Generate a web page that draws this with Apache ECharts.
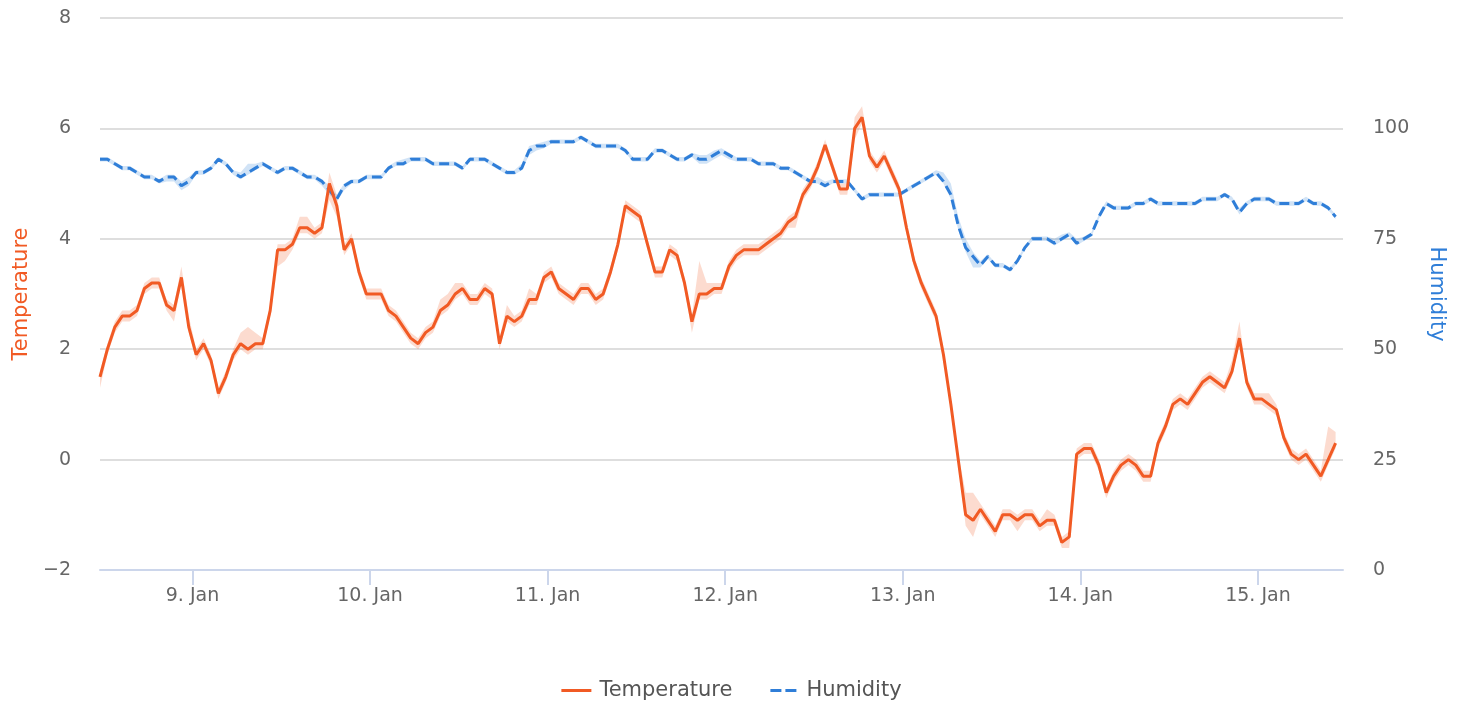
<!DOCTYPE html>
<html>
<head>
<meta charset="utf-8">
<title>Temperature and humidity</title>
<script src="https://cdn.jsdelivr.net/npm/echarts@6/dist/echarts.min.js"></script>
<style>
html, body { margin: 0; padding: 0; background: #fff; }
#main { width: 1463px; height: 707px; }
</style>
</head>
<body>
<div id="main"></div>
<script>
// hourly readings, first one on 8 Jan 11:30
var startTime = Date.UTC(2023, 0, 8, 11, 30);
var hour = 3600 * 1000;

var temperature = [
  1.5,2.0,2.4,2.6,2.6,2.7,3.1,3.2,3.2,2.8,
  2.7,3.3,2.4,1.9,2.1,1.8,1.2,1.5,1.9,2.1,
  2.0,2.1,2.1,2.7,3.8,3.8,3.9,4.2,4.2,4.1,
  4.2,5.0,4.6,3.8,4.0,3.4,3.0,3.0,3.0,2.7,
  2.6,2.4,2.2,2.1,2.3,2.4,2.7,2.8,3.0,3.1,
  2.9,2.9,3.1,3.0,2.1,2.6,2.5,2.6,2.9,2.9,
  3.3,3.4,3.1,3.0,2.9,3.1,3.1,2.9,3.0,3.4,
  3.9,4.6,4.5,4.4,3.9,3.4,3.4,3.8,3.7,3.2,
  2.5,3.0,3.0,3.1,3.1,3.5,3.7,3.8,3.8,3.8,
  3.9,4.0,4.1,4.3,4.4,4.8,5.0,5.3,5.7,5.3,
  4.9,4.9,6.0,6.2,5.5,5.3,5.5,5.2,4.9,4.2,
  3.6,3.2,2.9,2.6,1.9,1.0,0.0,-1.0,-1.1,-0.9,
  -1.1,-1.3,-1.0,-1.0,-1.1,-1.0,-1.0,-1.2,-1.1,-1.1,
  -1.5,-1.4,0.1,0.2,0.2,-0.1,-0.6,-0.3,-0.1,0.0,
  -0.1,-0.3,-0.3,0.3,0.6,1.0,1.1,1.0,1.2,1.4,
  1.5,1.4,1.3,1.6,2.2,1.4,1.1,1.1,1.0,0.9,
  0.4,0.1,0.0,0.1,-0.1,-0.3,0.0,0.3
];
var tempLow = [
  1.3,1.9,2.3,2.5,2.5,2.6,3.0,3.1,3.1,2.7,
  2.5,3.2,2.3,1.8,2.0,1.7,1.1,1.4,1.8,2.0,
  1.9,2.0,2.0,2.6,3.5,3.6,3.8,4.1,4.1,4.0,
  4.1,4.7,4.4,3.7,3.9,3.3,2.9,2.9,2.9,2.6,
  2.5,2.3,2.1,2.0,2.2,2.3,2.6,2.7,2.9,3.0,
  2.8,2.8,3.0,2.9,2.0,2.5,2.4,2.5,2.8,2.8,
  3.2,3.3,3.0,2.9,2.8,3.0,3.0,2.8,2.9,3.3,
  3.8,4.5,4.4,4.3,3.8,3.3,3.3,3.7,3.6,3.1,
  2.3,2.9,2.9,3.0,3.0,3.4,3.6,3.7,3.7,3.7,
  3.8,3.9,4.0,4.2,4.2,4.7,4.9,5.2,5.6,5.2,
  4.8,4.8,5.8,6.1,5.4,5.2,5.4,5.1,4.8,4.1,
  3.5,3.1,2.8,2.5,1.8,0.9,-0.1,-1.2,-1.4,-1.0,
  -1.2,-1.4,-1.1,-1.1,-1.3,-1.1,-1.1,-1.3,-1.2,-1.2,
  -1.6,-1.6,0.0,0.1,0.1,-0.2,-0.7,-0.4,-0.2,-0.1,
  -0.2,-0.4,-0.4,0.2,0.5,0.9,1.0,0.9,1.1,1.3,
  1.4,1.3,1.2,1.5,2.1,1.3,1.0,1.0,0.9,0.8,
  0.3,0.0,-0.1,0.0,-0.2,-0.4,-0.1,0.2
];
var tempHigh = [
  1.6,2.1,2.5,2.7,2.7,2.8,3.2,3.3,3.3,2.9,
  2.8,3.5,2.6,2.0,2.2,1.9,1.3,1.6,2.0,2.3,
  2.4,2.3,2.2,2.8,3.9,3.9,4.0,4.4,4.4,4.2,
  4.3,5.2,4.8,3.9,4.1,3.5,3.1,3.1,3.1,2.8,
  2.7,2.5,2.3,2.2,2.4,2.5,2.9,3.0,3.2,3.2,
  3.0,3.0,3.2,3.1,2.2,2.8,2.6,2.7,3.1,3.0,
  3.4,3.5,3.2,3.1,3.0,3.2,3.2,3.0,3.1,3.5,
  4.0,4.7,4.6,4.5,4.0,3.5,3.5,3.9,3.8,3.3,
  2.6,3.6,3.2,3.2,3.2,3.6,3.8,3.9,3.9,3.9,
  4.0,4.1,4.2,4.4,4.5,4.9,5.1,5.4,5.8,5.4,
  5.0,5.0,6.2,6.4,5.6,5.4,5.6,5.3,5.0,4.3,
  3.7,3.3,3.0,2.7,2.0,1.1,0.1,-0.6,-0.6,-0.8,
  -1.0,-1.2,-0.9,-0.9,-1.0,-0.9,-0.9,-1.1,-0.9,-1.0,
  -1.4,-1.3,0.2,0.3,0.3,0.0,-0.5,-0.2,0.0,0.1,
  0.0,-0.2,-0.2,0.4,0.7,1.1,1.2,1.1,1.3,1.5,
  1.6,1.5,1.4,1.8,2.5,1.5,1.2,1.2,1.2,1.0,
  0.5,0.2,0.1,0.2,0.0,-0.2,0.6,0.5
];

var humidity = [
  93,93,92,91,91,90,89,89,88,89,
  89,87,88,90,90,91,93,92,90,89,
  90,91,92,91,90,91,91,90,89,89,
  88,86,84,87,88,88,89,89,89,91,
  92,92,93,93,93,92,92,92,92,91,
  93,93,93,92,91,90,90,91,95,96,
  96,97,97,97,97,98,97,96,96,96,
  96,95,93,93,93,95,95,94,93,93,
  94,93,93,94,95,94,93,93,93,92,
  92,92,91,91,90,89,88,88,87,88,
  88,88,86,84,85,85,85,85,85,86,
  87,88,89,90,88,85,78,73,71,69,
  71,69,69,68,70,73,75,75,75,74,
  75,76,74,75,76,80,83,82,82,82,
  83,83,84,83,83,83,83,83,83,84,
  84,84,85,84,81,83,84,84,84,83,
  83,83,83,84,83,83,82,80
];
var humLow = [
  92.5,92.5,91.5,90.5,90.5,89.5,88.5,88.5,87.5,88,
  88,86,87,89.5,89.5,90.5,92.5,91.5,89.5,88.5,
  89.5,90.5,91.5,90.5,89.5,90.5,90.5,89.5,88.5,88.5,
  87,85,83.5,86,87.5,87.5,88.5,88.5,88.5,90.5,
  91.5,91.5,92.5,92.5,92.5,91.5,91.5,91.5,91.5,90.5,
  92.5,92.5,92.5,91.5,90.5,89.5,89.5,90.5,94,95,
  95.5,96.5,96.5,96.5,96.5,97.5,96.5,95.5,95.5,95.5,
  95.5,94.5,92.5,92.5,92.5,94.5,94.5,93.5,92.5,92.5,
  93.5,92,92,93,94,93,92.5,92.5,92.5,91.5,
  91.5,91.5,90.5,90.5,89.5,88.5,87.5,87.5,86.5,87.5,
  87.5,87.5,85.5,83.5,84.5,84.5,84.5,84.5,84.5,85.5,
  86.5,87.5,88.5,89.5,87.5,84,77,72,68.5,68.5,
  70.5,68.5,68.5,67.5,69.5,72.5,74.5,74.5,74.5,73.5,
  74.5,75.5,73.5,74.5,75.5,79.5,82.5,81.5,81.5,81.5,
  82.5,82.5,83.5,82.5,82.5,82.5,82.5,82.5,82.5,83.5,
  83.5,83.5,84.5,83.5,80.5,82.5,83.5,83.5,83.5,82.5,
  82.5,82.5,82.5,83.5,82.5,82.5,81.5,79.5
];
var humHigh = [
  93.5,93.5,92.5,91.5,91.5,90.5,89.5,89.5,88.5,89.5,
  89.5,88,89,90.5,90.5,91.5,93.5,92.5,90.5,90,
  92,92,92.5,91.5,90.5,91.5,91.5,90.5,89.5,89.5,
  88.5,87,85,87.5,88.5,88.5,89.5,89.5,89.5,91.5,
  92.5,93,93.5,93.5,93.5,92.5,92.5,92.5,92.5,91.5,
  93.5,93.5,93.5,92.5,91.5,90.5,90.5,92,96,96.5,
  97,97.5,97.5,97.5,97.5,98.5,97.5,96.5,96.5,96.5,
  96.5,95.5,93.5,93.5,93.5,95.5,95.5,94.5,93.5,93.5,
  94.5,94,94,95,95.5,94.5,93.5,93.5,93.5,92.5,
  92.5,92.5,91.5,91.5,90.5,89.5,88.5,89,88,88.5,
  88.5,88.5,86.5,84.5,85.5,85.5,85.5,85.5,85.5,86.5,
  87.5,88.5,89.5,90.5,90,87.5,80,75,72,70,
  71.5,69.5,69.5,68.5,70.5,73.5,75.5,75.5,75.5,75,
  76,76.5,75,75.5,76.5,80.5,83.5,82.5,82.5,82.5,
  83.5,83.5,84.5,83.5,83.5,83.5,83.5,83.5,83.5,84.5,
  84.5,84.5,85.5,84.5,82,83.5,84.5,84.5,84.5,83.5,
  83.5,83.5,83.5,84.5,83.5,83.5,82.5,80.5
];

var times = [];
for (var i = 0; i < temperature.length; i++) {
  times.push(startTime + i * hour);
}

var tempColor = '#f15a24';
var humColor = '#2f7ed8';
var font = 'DejaVu Sans';

function pairs(vals) {
  return times.map(function (t, i) { return [t, vals[i]]; });
}

// one polygon for the whole min/max band
function bandSeries(name, lo, hi, axisIndex, fill) {
  return {
    name: name,
    type: 'custom',
    yAxisIndex: axisIndex,
    silent: true,
    z: 1,
    encode: { x: 0, y: [1, 2] },
    data: times.map(function (t, i) { return [t, lo[i], hi[i]]; }),
    renderItem: function (params, api) {
      if (params.dataIndex !== 0) return null;
      var pts = [];
      for (var k = 0; k < times.length; k++) pts.push(api.coord([times[k], hi[k]]));
      for (var j = times.length - 1; j >= 0; j--) pts.push(api.coord([times[j], lo[j]]));
      return { type: 'polygon', shape: { points: pts }, style: { fill: fill } };
    }
  };
}

var chart = echarts.init(document.getElementById('main'));

var option = {
  animation: false,
  useUTC: true,
  textStyle: { fontFamily: font },
  grid: { left: 100, right: 120, top: 18, bottom: 137, containLabel: false },
  legend: {
    data: [
      { name: 'Temperature', icon: 'rect' },
      { name: 'Humidity', icon: 'path://M0,0H11V3H0Z M15,0H26V3H15Z' }
    ],
    left: 'center',
    top: 680,
    padding: 0,
    itemWidth: 30,
    itemHeight: 3,
    itemGap: 38,
    textStyle: { fontSize: 21, color: '#555', fontFamily: font, padding: [0, 0, 0, 3] }
  },
  xAxis: {
    type: 'time',
    min: startTime,
    max: startTime + 168 * hour,
    minInterval: 24 * hour,
    maxInterval: 24 * hour,
    splitLine: { show: false },
    axisLine: { onZero: false, lineStyle: { color: '#ccd6eb', width: 2 } },
    axisTick: { show: true, length: 15, lineStyle: { color: '#ccd6eb', width: 2 } },
    axisLabel: {
      color: '#666',
      fontSize: 19,
      margin: 17,
      showMinLabel: false,
      showMaxLabel: false,
      formatter: function (v) {
        return new Date(v).getUTCDate() + '. Jan';
      }
    }
  },
  yAxis: [
    {
      type: 'value',
      min: -2,
      max: 8,
      interval: 2,
      name: 'Temperature',
      nameLocation: 'middle',
      nameRotate: 90,
      nameGap: 68,
      nameTextStyle: { color: tempColor, fontSize: 21, fontFamily: font },
      axisLine: { show: false },
      axisTick: { show: false },
      splitLine: { lineStyle: { color: '#dedede', width: 2 } },
      axisLabel: {
        color: '#666',
        fontSize: 19,
        margin: 29,
        formatter: function (v) { return v < 0 ? '\u2212' + Math.abs(v) : '' + v; }
      }
    },
    {
      type: 'value',
      position: 'right',
      min: 0,
      max: 125,
      interval: 25,
      name: 'Humidity',
      nameLocation: 'middle',
      nameRotate: -90,
      nameGap: 83,
      nameTextStyle: { color: humColor, fontSize: 21, fontFamily: font },
      axisLine: { show: false },
      axisTick: { show: false },
      splitLine: { show: false },
      axisLabel: {
        color: '#666',
        fontSize: 19,
        margin: 30,
        formatter: function (v) { return v === 125 ? '' : '' + v; }
      }
    }
  ],
  series: [
    bandSeries('Humidity range', humLow, humHigh, 1, 'rgba(47,126,216,0.22)'),
    bandSeries('Temperature range', tempLow, tempHigh, 0, 'rgba(241,90,36,0.22)'),
    {
      name: 'Humidity',
      type: 'line',
      yAxisIndex: 1,
      data: pairs(humidity),
      symbol: 'none',
      z: 3,
      color: humColor,
      lineStyle: { color: humColor, width: 3, type: [10, 5] }
    },
    {
      name: 'Temperature',
      type: 'line',
      yAxisIndex: 0,
      data: pairs(temperature),
      symbol: 'none',
      z: 4,
      color: tempColor,
      lineStyle: { color: tempColor, width: 3 }
    }
  ]
};

chart.setOption(option);
</script>
</body>
</html>
